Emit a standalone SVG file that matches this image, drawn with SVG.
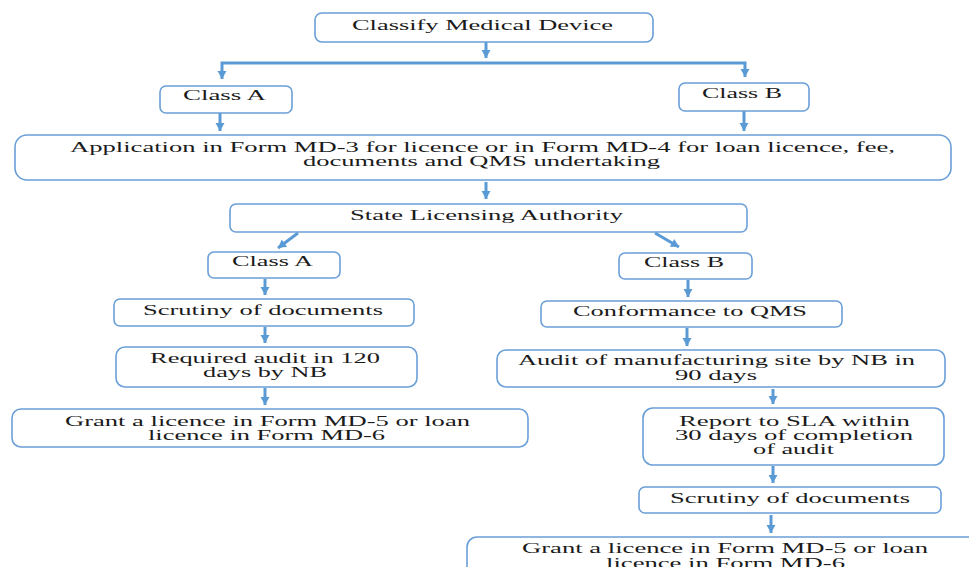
<svg xmlns="http://www.w3.org/2000/svg" width="969" height="567" viewBox="0 0 969 567">
<style>
.box{fill:#fff;stroke:#6A9FD8;stroke-width:1.6}
.t{font-size:14px;fill:#1b1b1b;text-anchor:middle}
.c{fill:none;stroke:#5B9BD5;stroke-width:3}
</style>
<defs>
<marker id="ah" markerUnits="userSpaceOnUse" markerWidth="12" markerHeight="12" viewBox="0 0 12 12" refX="10" refY="6" orient="auto">
<path d="M2,1.5 L10,6 L2,10.5 Z" fill="#5B9BD5"/>
</marker>
</defs>
<rect width="969" height="567" fill="#fff"/>
<g id="connectors">
<path class="c" d="M486,42 V58" marker-end="url(#ah)"/>
<path class="c" d="M486,63 H222 V79" marker-end="url(#ah)"/>
<path class="c" d="M486,63 H745 V77" marker-end="url(#ah)"/>
<path class="c" d="M220,113 V131" marker-end="url(#ah)"/>
<path class="c" d="M744,111 V131" marker-end="url(#ah)"/>
<path class="c" d="M486,182 V199" marker-end="url(#ah)"/>
<path class="c" d="M298,233 L278,248" marker-end="url(#ah)"/>
<path class="c" d="M655,233 L679,247" marker-end="url(#ah)"/>
<path class="c" d="M265,279 V295" marker-end="url(#ah)"/>
<path class="c" d="M688,280 V297" marker-end="url(#ah)"/>
<path class="c" d="M265,327 V343" marker-end="url(#ah)"/>
<path class="c" d="M687,328 V346" marker-end="url(#ah)"/>
<path class="c" d="M265,388 V405" marker-end="url(#ah)"/>
<path class="c" d="M773,389 V404" marker-end="url(#ah)"/>
<path class="c" d="M773,466 V483" marker-end="url(#ah)"/>
<path class="c" d="M771,515 V533" marker-end="url(#ah)"/>
</g>
<g id="nodes" font-family="'Times New Roman', 'Liberation Serif', serif">
<g id="classify">
<rect class="box" x="315" y="13" width="338" height="29" rx="7"/>
<text class="t" x="482.5" y="30" textLength="261" lengthAdjust="spacingAndGlyphs">Classify Medical Device</text>
</g>
<g id="classA-top">
<rect class="box" x="160" y="86" width="132" height="27" rx="6"/>
<text class="t" x="224.5" y="100" textLength="83" lengthAdjust="spacingAndGlyphs">Class A</text>
</g>
<g id="classB-top">
<rect class="box" x="679" y="83" width="130" height="28" rx="6"/>
<text class="t" x="742" y="98" textLength="80" lengthAdjust="spacingAndGlyphs">Class B</text>
</g>
<g id="application">
<rect class="box" x="15" y="135" width="936" height="45" rx="12"/>
<text class="t" x="482.5" y="152" textLength="825" lengthAdjust="spacingAndGlyphs">Application in Form MD-3 for licence or in Form MD-4 for loan licence, fee,</text>
<text class="t" x="481.5" y="166" textLength="357" lengthAdjust="spacingAndGlyphs">documents and QMS undertaking</text>
</g>
<g id="sla">
<rect class="box" x="230" y="204" width="517" height="28" rx="6"/>
<text class="t" x="486.5" y="220" textLength="273" lengthAdjust="spacingAndGlyphs">State Licensing Authority</text>
</g>
<g id="classA-sla">
<rect class="box" x="208" y="252" width="132" height="26" rx="6"/>
<text class="t" x="272.5" y="266" textLength="81" lengthAdjust="spacingAndGlyphs">Class A</text>
</g>
<g id="classB-sla">
<rect class="box" x="619" y="253" width="133" height="26" rx="6"/>
<text class="t" x="684" y="267" textLength="80" lengthAdjust="spacingAndGlyphs">Class B</text>
</g>
<g id="scrutiny-a">
<rect class="box" x="114" y="299" width="300" height="27" rx="6"/>
<text class="t" x="263" y="315" textLength="240" lengthAdjust="spacingAndGlyphs">Scrutiny of documents</text>
</g>
<g id="conformance">
<rect class="box" x="541" y="301" width="301" height="26" rx="6"/>
<text class="t" x="690" y="316" textLength="234" lengthAdjust="spacingAndGlyphs">Conformance to QMS</text>
</g>
<g id="required-audit">
<rect class="box" x="116" y="347" width="301" height="40" rx="9"/>
<text class="t" x="265" y="363" textLength="230" lengthAdjust="spacingAndGlyphs">Required audit in 120</text>
<text class="t" x="265" y="377" textLength="124" lengthAdjust="spacingAndGlyphs">days by NB</text>
</g>
<g id="audit-site">
<rect class="box" x="497" y="350" width="448" height="37" rx="9"/>
<text class="t" x="716.5" y="365" textLength="397" lengthAdjust="spacingAndGlyphs">Audit of manufacturing site by NB in</text>
<text class="t" x="716" y="380" textLength="82" lengthAdjust="spacingAndGlyphs">90 days</text>
</g>
<g id="grant-a">
<rect class="box" x="12" y="409" width="516" height="38" rx="9"/>
<text class="t" x="267.5" y="426" textLength="405" lengthAdjust="spacingAndGlyphs">Grant a licence in Form MD-5 or loan</text>
<text class="t" x="266.5" y="440" textLength="237" lengthAdjust="spacingAndGlyphs">licence in Form MD-6</text>
</g>
<g id="report">
<rect class="box" x="643" y="408" width="301" height="57" rx="10"/>
<text class="t" x="794.5" y="426" textLength="231" lengthAdjust="spacingAndGlyphs">Report to SLA within</text>
<text class="t" x="794" y="440" textLength="238" lengthAdjust="spacingAndGlyphs">30 days of completion</text>
<text class="t" x="793.5" y="454" textLength="81" lengthAdjust="spacingAndGlyphs">of audit</text>
</g>
<g id="scrutiny-b">
<rect class="box" x="639" y="487" width="302" height="26" rx="6"/>
<text class="t" x="790" y="503" textLength="240" lengthAdjust="spacingAndGlyphs">Scrutiny of documents</text>
</g>
<g id="grant-b">
<rect class="box" x="467" y="537" width="520" height="50" rx="10"/>
<text class="t" x="725" y="553" textLength="406" lengthAdjust="spacingAndGlyphs">Grant a licence in Form MD-5 or loan</text>
<text class="t" x="725.5" y="568" textLength="239" lengthAdjust="spacingAndGlyphs">licence in Form MD-6</text>
</g>
</g>
</svg>
